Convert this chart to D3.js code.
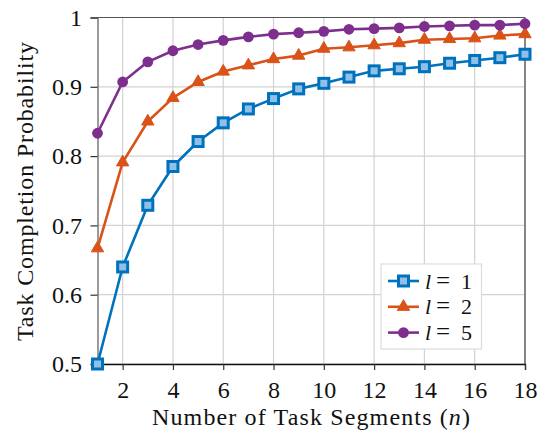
<!DOCTYPE html>
<html>
<head>
<meta charset="utf-8">
<script src="https://cdn.jsdelivr.net/npm/d3@7"></script>
<style>
  html, body { margin: 0; padding: 0; background: #fff; }
  svg { display: block; }
  text { font-family: "Liberation Serif", "DejaVu Serif", serif; fill: #111; }
</style>
</head>
<body>
<svg id="chart" width="541" height="432"></svg>
<script>
// Number of task segments
const segments = [1, 2, 3, 4, 5, 6, 7, 8, 9, 10, 11, 12, 13, 14, 15, 16, 17, 18];

// Task completion probability for each l
const probL1 = [0.500, 0.640, 0.729, 0.785, 0.821, 0.848, 0.868, 0.883, 0.897, 0.905,
                0.914, 0.923, 0.926, 0.929, 0.934, 0.938, 0.942, 0.947];
const probL2 = [0.667, 0.791, 0.850, 0.884, 0.907, 0.922, 0.931, 0.940, 0.945, 0.955,
                0.957, 0.960, 0.963, 0.968, 0.969, 0.970, 0.974, 0.976];
const probL5 = [0.833, 0.907, 0.936, 0.952, 0.961, 0.967, 0.972, 0.976, 0.978, 0.980,
                0.983, 0.984, 0.985, 0.987, 0.988, 0.989, 0.989, 0.991];

const seriesNames = ["1", "2", "5"];
const seriesColors = ["#0072BD", "#D95319", "#7E2F8E"];
const seriesMarkers = ["square", "triangle", "circle"];

const xTicks = [2, 4, 6, 8, 10, 12, 14, 16, 18];
const yTicks = [0.5, 0.6, 0.7, 0.8, 0.9, 1];

const series = [probL1, probL2, probL5].map((vals, i) => ({
  name: seriesNames[i],
  color: seriesColors[i],
  marker: seriesMarkers[i],
  values: vals.map((v, j) => ({ n: segments[j], p: v }))
}));

const svg = d3.select("#chart");
const margin = { left: 97.5, right: 16, top: 17.5, bottom: 68 };
const W = 541, H = 432;
const x = d3.scaleLinear().domain([1, 18]).range([margin.left, W - margin.right]);
const y = d3.scaleLinear().domain([0.5, 1]).range([H - margin.bottom, margin.top]);

// grid
const grid = svg.append("g");
grid.selectAll("line.vx").data(xTicks).join("line")
  .attr("x1", d => x(d)).attr("x2", d => x(d))
  .attr("y1", y(0.5)).attr("y2", y(1))
  .attr("stroke", "#d2d2d2").attr("stroke-width", 1.2);
grid.selectAll("line.hy").data(yTicks).join("line")
  .attr("x1", x(1)).attr("x2", x(18))
  .attr("y1", d => y(d)).attr("y2", d => y(d))
  .attr("stroke", "#d2d2d2").attr("stroke-width", 1.2);

// frame: top and right borders
svg.append("line").attr("x1", x(1)).attr("x2", x(18)).attr("y1", y(1)).attr("y2", y(1))
  .attr("stroke", "#555").attr("stroke-width", 1.2);
svg.append("line").attr("x1", x(18)).attr("x2", x(18)).attr("y1", y(1)).attr("y2", y(0.5))
  .attr("stroke", "#666").attr("stroke-width", 1.5);

// axes
const xAxis = svg.append("g").attr("transform", `translate(0,${y(0.5)})`)
  .call(d3.axisBottom(x).tickValues(xTicks).tickSize(6).tickPadding(11).tickFormat(d3.format("d")));
const yAxis = svg.append("g").attr("transform", `translate(${x(1)},0)`)
  .call(d3.axisLeft(y).tickValues(yTicks).tickSize(7).tickPadding(8.5)
    .tickFormat(d => d === 1 ? "1" : d3.format(".1f")(d)));

xAxis.select(".domain").attr("stroke", "#111").attr("stroke-width", 1.3);
xAxis.selectAll(".tick line").attr("stroke", "#333").attr("stroke-width", 1.2);
xAxis.selectAll(".tick text").attr("font-size", 24).attr("fill", "#111");
yAxis.select(".domain").attr("stroke", "#666").attr("stroke-width", 1.3);
yAxis.selectAll(".tick line").attr("stroke", "#333").attr("stroke-width", 1.2);
yAxis.selectAll(".tick text").attr("font-size", 24).attr("fill", "#111");

// marker drawing helper
function drawMarker(g, type, color) {
  if (type === "square") {
    g.append("rect").attr("x", -5).attr("y", -5).attr("width", 10).attr("height", 10)
      .attr("fill", "#8fc1e8").attr("stroke", color).attr("stroke-width", 3);
  } else if (type === "triangle") {
    g.append("path").attr("d", d3.symbol(d3.symbolTriangle, 66)())
      .attr("fill", color).attr("stroke", color).attr("stroke-width", 1);
  } else {
    g.append("circle").attr("r", 5.4).attr("fill", color);
  }
}

const line = d3.line().x(d => x(d.n)).y(d => y(d.p));
const plot = svg.append("g");
series.forEach(s => {
  plot.append("path").datum(s.values).attr("d", line)
    .attr("fill", "none").attr("stroke", s.color).attr("stroke-width", 2.6)
    .attr("stroke-linejoin", "round");
  s.values.forEach(d => {
    const g = plot.append("g").attr("transform", `translate(${x(d.n)},${y(d.p)})`);
    drawMarker(g, s.marker, s.color);
  });
});

// legend
const legend = svg.append("g").attr("transform", "translate(381,264)");
legend.append("rect").attr("width", 100.5).attr("height", 85)
  .attr("fill", "#fff").attr("stroke", "#dcdcdc").attr("stroke-width", 1.2);
series.forEach((s, i) => {
  const cy = 17 + i * 25.8;
  const row = legend.append("g").attr("transform", `translate(0,${cy})`);
  row.append("line").attr("x1", 7).attr("x2", 38).attr("y1", 0).attr("y2", 0)
    .attr("stroke", s.color).attr("stroke-width", 2.6);
  drawMarker(row.append("g").attr("transform", "translate(22.5,0)"), s.marker, s.color);
  const t = row.append("text").attr("y", 7.5).attr("font-size", 22);
  t.append("tspan").attr("x", 44).attr("font-style", "italic").text("l");
  t.append("tspan").attr("x", 55).attr("font-size", 25).text("=");
  t.append("tspan").attr("x", 80).text(s.name);
});

// axis titles
svg.append("text").attr("x", 311).attr("y", 425).attr("text-anchor", "middle")
  .attr("font-size", 24).attr("textLength", 318).attr("lengthAdjust", "spacing")
  .call(t => {
    t.append("tspan").text("Number of Task Segments (");
    t.append("tspan").attr("font-style", "italic").text("n");
    t.append("tspan").text(")");
  });
svg.append("text").attr("transform", "translate(33,191.5) rotate(-90)")
  .attr("text-anchor", "middle").attr("font-size", 24)
  .attr("textLength", 299).attr("lengthAdjust", "spacing")
  .text("Task Completion Probability");
</script>
</body>
</html>
